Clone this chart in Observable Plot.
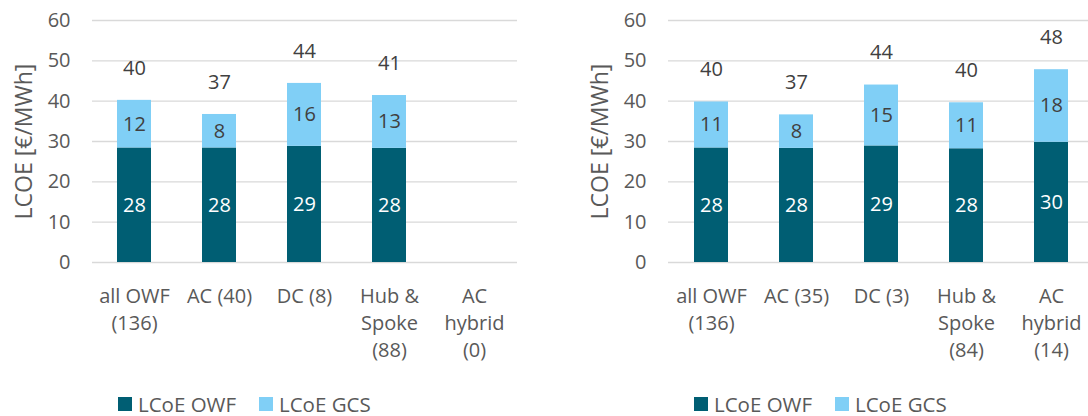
<!DOCTYPE html>
<html>
<head>
<meta charset="utf-8">
<script src="https://cdn.jsdelivr.net/npm/d3@7"></script>
<script src="https://cdn.jsdelivr.net/npm/@observablehq/plot@0.6"></script>
<style>
  html, body { margin: 0; padding: 0; background: #fff; overflow: hidden; }
  #wrap { position: relative; width: 1088px; height: 416px; font-family: "Open Sans", sans-serif; color: #595959; }
  .panel { position: absolute; top: 0; }
  .leg { position: absolute; top: 395px; font-size: 20.5px; line-height: 18px; display: flex; align-items: center; white-space: nowrap; }
  .sw { display: inline-block; width: 14px; height: 14px; margin-right: 6px; }
</style>
</head>
<body>
<div id="wrap"></div>
<script>
const seriesNames = ["LCoE OWF", "LCoE GCS"];
const seriesColors = ["#005E73", "#80CFF6"];
const yTicks = [0, 10, 20, 30, 40, 50, 60];
const yLabel = "LCOE [€/MWh]";

const categoriesLeft = ["all OWF\n(136)", "AC (40)", "DC (8)", "Hub &\nSpoke\n(88)", "AC\nhybrid\n(0)"];
const owfLeft = [28.4, 28.4, 28.8, 28.3, 0];
const gcsLeft = [11.8, 8.3, 15.6, 13.1, 0];

const categoriesRight = ["all OWF\n(136)", "AC (35)", "DC (3)", "Hub &\nSpoke\n(84)", "AC\nhybrid\n(14)"];
const owfRight = [28.4, 28.3, 28.9, 28.2, 29.8];
const gcsRight = [11.4, 8.3, 15.1, 11.4, 18.0];

function panel(cats, owf, gcs, width, marginLeft, marginRight) {
  const rows = cats.flatMap((c, i) => [
    {cat: c, series: seriesNames[0], value: owf[i]},
    {cat: c, series: seriesNames[1], value: gcs[i]}
  ]).filter(d => d.value > 0);
  const segLabels = cats.flatMap((c, i) => owf[i] > 0 ? [
    {cat: c, y: owf[i] / 2, text: String(Math.round(owf[i])), fill: "#ffffff"},
    {cat: c, y: owf[i] + gcs[i] / 2, text: String(Math.round(gcs[i])), fill: "#404040"}
  ] : []);
  const totals = cats.map((c, i) => ({cat: c, total: owf[i] + gcs[i]})).filter(d => d.total > 0);
  return Plot.plot({
    width, height: 380,
    marginLeft, marginRight, marginTop: 20, marginBottom: 118,
    style: {fontFamily: "Open Sans, sans-serif", fontSize: "20px", color: "#595959", background: "transparent", overflow: "visible"},
    x: {domain: cats, paddingInner: 0.6, paddingOuter: 0.3, align: 0.5},
    y: {domain: [0, 60]},
    color: {domain: seriesNames, range: seriesColors},
    marks: [
      Plot.gridY({ticks: yTicks, stroke: "#D9D9D9", strokeOpacity: 1, strokeWidth: 1.4}),
      Plot.barY(rows, {x: "cat", y: "value", fill: "series"}),
      Plot.text(segLabels, {x: "cat", y: "y", text: "text", fill: d => d.fill, fontSize: 20}),
      Plot.text(totals, {x: "cat", y: "total", text: d => String(Math.round(d.total)), dy: -32, fill: "#404040", fontSize: 20}),
      Plot.axisY({ticks: yTicks, tickSize: 0, tickPadding: 22, fontSize: 20, label: null}),
      Plot.text([yLabel], {frameAnchor: "left", textAnchor: "middle", lineAnchor: "middle", rotate: -90, dx: -68, fontSize: 23, fill: "#595959"}),
      Plot.axisX({tickSize: 0, tickPadding: 21, fontSize: 20, lineHeight: 1.35, label: null})
    ]
  });
}

const wrap = document.getElementById("wrap");
const left = panel(categoriesLeft, owfLeft, gcsLeft, 544, 92, 27);
left.classList.add("panel"); left.style.left = "0px";
wrap.appendChild(left);
const right = panel(categoriesRight, owfRight, gcsRight, 550, 124, 0);
right.classList.add("panel"); right.style.left = "544px";
wrap.appendChild(right);

function legend(x1, x2) {
  seriesNames.forEach((name, i) => {
    const d = document.createElement("div");
    d.className = "leg";
    d.style.left = (i === 0 ? x1 : x2) + "px";
    d.innerHTML = `<span class="sw" style="background:${seriesColors[i]}"></span><span>${name}</span>`;
    wrap.appendChild(d);
  });
}
legend(118, 259);
legend(694, 835);
</script>
</body>
</html>
